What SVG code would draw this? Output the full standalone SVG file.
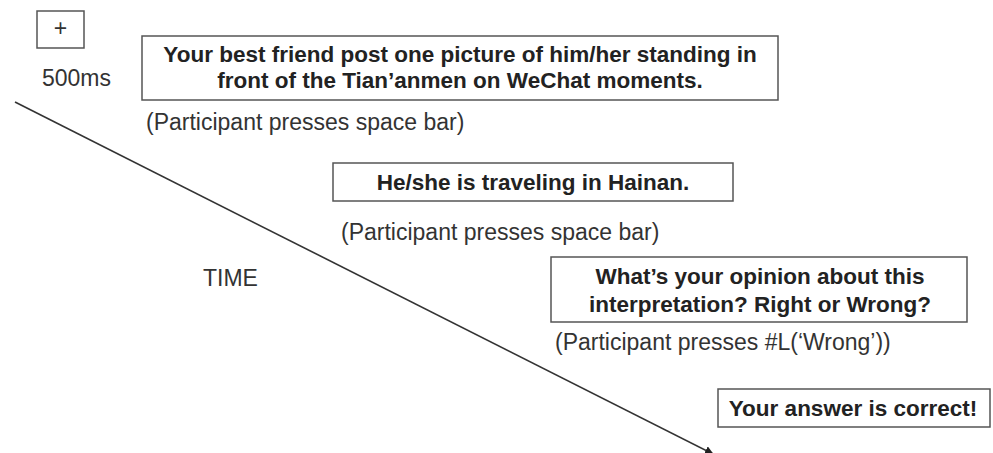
<svg xmlns="http://www.w3.org/2000/svg" width="993" height="453" viewBox="0 0 993 453">
  <style>
    .box { fill: #ffffff; stroke: #555555; stroke-width: 1.5; }
    .bold { font-family: "Liberation Sans", Arial, sans-serif; font-weight: bold; font-size: 22.5px; fill: #222222; text-anchor: middle; }
    .reg { font-family: "Liberation Sans", Arial, sans-serif; font-size: 23px; fill: #333333; }
    .axis { stroke: #333333; stroke-width: 1.6; fill: none; }
  </style>
  <defs>
    <marker id="arrowhead" viewBox="0 0 10 10" refX="9" refY="5" markerWidth="9" markerHeight="9" markerUnits="userSpaceOnUse" orient="auto">
      <path d="M0,0 L10,5 L0,10 z" fill="#222222"/>
    </marker>
  </defs>
  <rect width="993" height="453" fill="#ffffff"/>

  <!-- time axis -->
  <g id="connectors">
    <line class="axis" x1="15" y1="102" x2="713" y2="454" marker-end="url(#arrowhead)"/>
  </g>

  <g id="fixation">
    <rect class="box" x="37" y="11" width="47" height="37"/>
    <text class="reg" x="60.5" y="36" text-anchor="middle" font-size="20">+</text>
  </g>
  <g id="duration">
    <text class="reg" x="42" y="86">500ms</text>
  </g>

  <g id="scenario">
    <rect class="box" x="142" y="36" width="636" height="64"/>
    <text class="bold" x="460" y="62">Your best friend post one picture of him/her standing in</text>
    <text class="bold" x="460" y="88">front of the Tian’anmen on WeChat moments.</text>
  </g>
  <g id="response1">
    <text class="reg" x="146" y="130">(Participant presses space bar)</text>
  </g>

  <g id="interpretation">
    <rect class="box" x="333" y="163" width="400" height="38"/>
    <text class="bold" x="533" y="190">He/she is traveling in Hainan.</text>
  </g>
  <g id="response2">
    <text class="reg" x="341" y="240">(Participant presses space bar)</text>
  </g>

  <g id="time-label">
    <text class="reg" x="203" y="286">TIME</text>
  </g>

  <g id="question">
    <rect class="box" x="551" y="257" width="416" height="65"/>
    <text class="bold" x="760" y="284">What’s your opinion about this</text>
    <text class="bold" x="760" y="312">interpretation? Right or Wrong?</text>
  </g>
  <g id="response3">
    <text class="reg" x="555" y="350">(Participant presses #L(‘Wrong’))</text>
  </g>

  <g id="feedback">
    <rect class="box" x="718" y="389" width="272" height="38"/>
    <text class="bold" x="853" y="416">Your answer is correct!</text>
  </g>
</svg>
